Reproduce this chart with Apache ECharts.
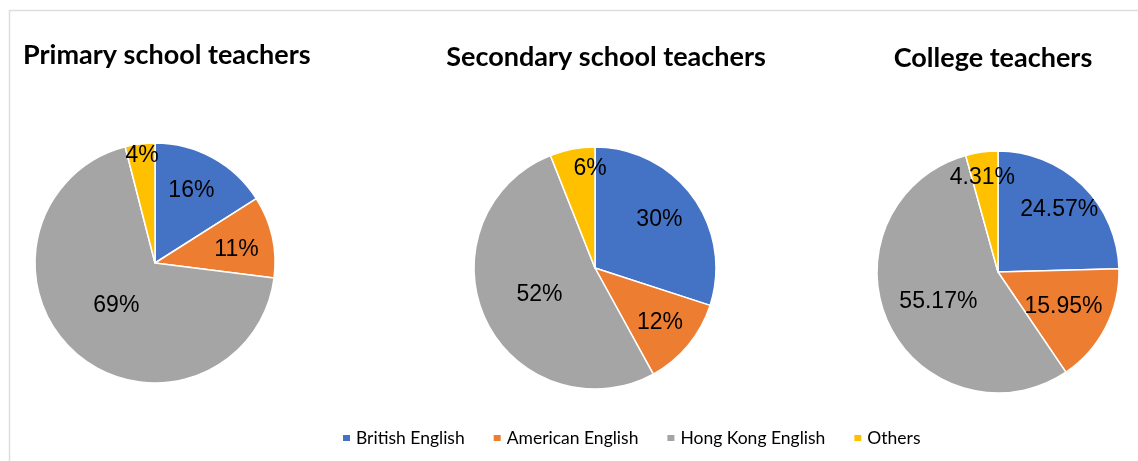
<!DOCTYPE html>
<html>
<head>
<meta charset="utf-8">
<style>
  html, body { margin: 0; padding: 0; background: #fff; }
  #chart { width: 1138px; height: 461px; }
</style>
<script src="https://cdn.jsdelivr.net/npm/echarts@6/dist/echarts.min.js"></script>
</head>
<body>
<div id="chart"></div>
<script>
// data
const categories = ['British English', 'American English', 'Hong Kong English', 'Others']
const chartTitles = ['Primary school teachers', 'Secondary school teachers', 'College teachers']
const primaryValues = [16, 11, 69, 4]
const secondaryValues = [30, 12, 52, 6]
const collegeValues = [24.57, 15.95, 55.17, 4.31]

const colors = ['#4472C4', '#ED7D31', '#A5A5A5', '#FFC000']

// per-pie layout and small nudges for the labels (Excel "best fit")
const pies = [
  { values: primaryValues, center: [155, 263], radius: 120, titleX: 23, titleTop: 42, titleAlign: 'left',
    offsets: [[6, -17], [20, 0], [3, -5], [-5, -45]] },
  { values: secondaryValues, center: [595, 268], radius: 121, titleX: 606, titleTop: 44, titleAlign: 'center',
    offsets: [[13, -11], [16, 14], [2, 0], [7, -37]] },
  { values: collegeValues, center: [998, 272], radius: 121, titleX: 993, titleTop: 45, titleAlign: 'center',
    offsets: [[17, -17], [9, 6], [-2, 3], [-7, -31]] }
]

const titleFont = 'Lato, "Open Sans", sans-serif'

const chart = echarts.init(document.getElementById('chart'))

const option = {
  backgroundColor: '#fff',
  color: colors,
  animation: false,
  title: pies.map((p, i) => ({
    text: chartTitles[i],
    left: p.titleX,
    top: p.titleTop,
    textAlign: p.titleAlign,
    padding: 0,
    textStyle: {
      fontFamily: titleFont,
      fontWeight: 'bold',
      fontSize: 27,
      color: '#000'
    }
  })),
  legend: {
    data: categories,
    top: 429,
    left: 341,
    padding: 0,
    icon: 'rect',
    itemWidth: 9,
    itemHeight: 8,
    itemGap: 27,
    textStyle: {
      fontFamily: titleFont,
      fontSize: 17.5,
      color: '#000'
    }
  },
  graphic: [{
    type: 'rect',
    shape: { x: 9.5, y: 10.5, width: 1300, height: 600 },
    style: { fill: 'none', stroke: '#dedede', lineWidth: 1.5 },
    silent: true
  }],
  series: pies.map((p, i) => ({
    type: 'pie',
    name: chartTitles[i],
    center: p.center,
    radius: p.radius,
    startAngle: 90,
    clockwise: true,
    avoidLabelOverlap: false,
    itemStyle: { borderColor: '#fff', borderWidth: 1.5 },
    label: {
      show: true,
      position: 'inside',
      formatter: params => params.value + '%',
      fontFamily: '"Liberation Sans", Arial, sans-serif',
      fontSize: 23,
      color: '#000'
    },
    labelLine: { show: false },
    emphasis: { disabled: true },
    data: p.values.map((v, j) => ({
      name: categories[j],
      value: v,
      label: { offset: p.offsets[j] }
    }))
  }))
}

chart.setOption(option)
</script>
</body>
</html>
